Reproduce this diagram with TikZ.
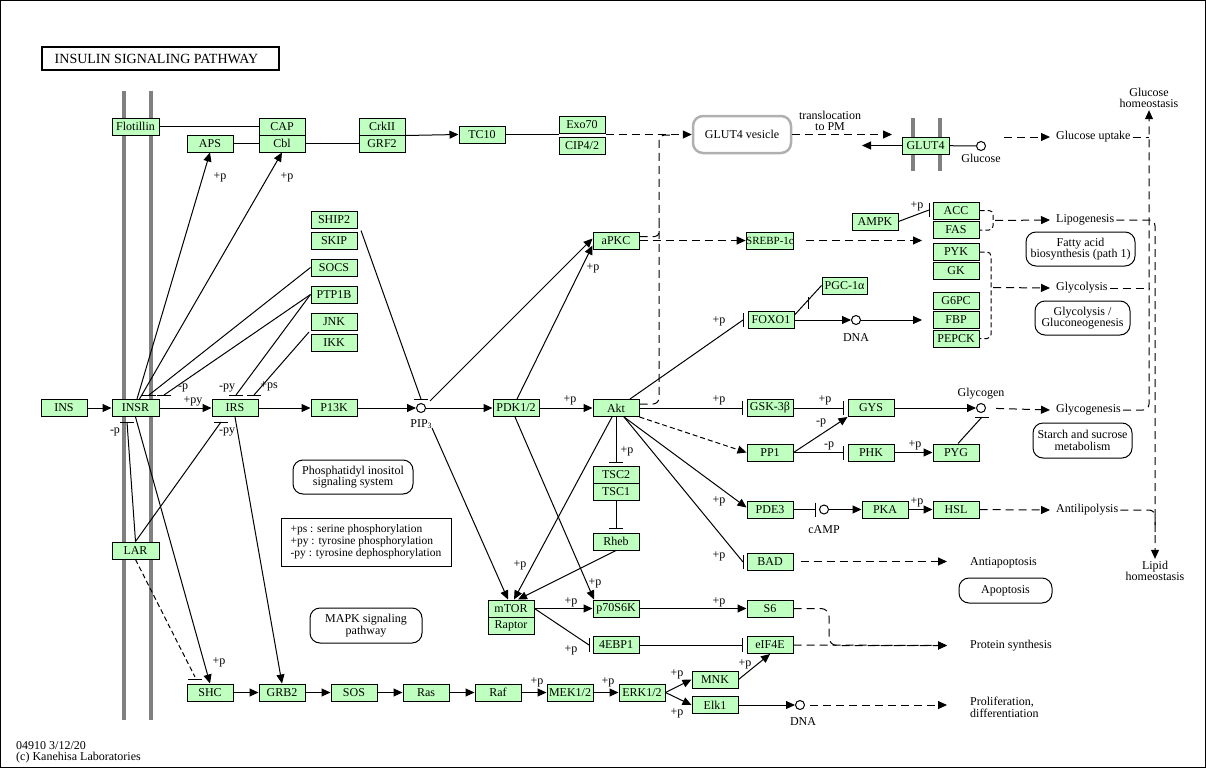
\documentclass[tikz,border=0pt]{standalone}
\usepackage{fontspec}
\setmainfont{Liberation Serif}
\usetikzlibrary{arrows.meta}
\definecolor{kgreen}{RGB}{191,255,191}
\definecolor{kgray}{RGB}{128,128,128}
\definecolor{vgray}{RGB}{176,176,176}
\newcommand{\kfs}{\fontsize{12}{11.5}\selectfont}
\newcommand{\kvb}[1]{\draw[con] ([yshift=-7pt]#1) -- ([yshift=7pt]#1);}
\newcommand{\khb}[1]{\draw[con] ([xshift=-7pt]#1) -- ([xshift=7pt]#1);}
\begin{document}
\begin{tikzpicture}[x=1pt,y=-1pt,
  con/.style={line width=1pt},
  gene/.style={draw, fill=kgreen, line width=1pt, minimum width=46pt, minimum height=17pt, inner sep=0pt, font=\kfs},
  cpd/.style={circle, draw, line width=1pt, minimum size=9pt, inner sep=0pt, fill=white},
  lbl/.style={font=\kfs, inner sep=0pt},
  txt/.style={font=\kfs, inner sep=2pt, align=center},
  map/.style={draw, line width=1pt, rounded corners=10pt, font=\kfs, align=center, inner sep=0pt},
  act/.style={con, -{Triangle[length=9pt,width=8pt]}},
  inh/.style={con, -{Bar[width=14pt]}, shorten >=3.5pt},
  dsh/.style={dash pattern=on 8pt off 5pt},
  fdsh/.style={dash pattern=on 5pt off 3pt}]
\useasboundingbox (0,0) rectangle (1206,768);
\draw[line width=1pt] (0.5,0.5) rectangle (1205.5,767.5);

% title
\node[draw, line width=2pt, minimum width=237pt, minimum height=23pt, inner sep=0pt, font=\fontsize{14}{14}\selectfont] (title) at (160.5,58.5) {INSULIN SIGNALING PATHWAY\hspace*{8pt}};

% membranes
\draw[kgray, line width=4pt] (124,91) -- (124,720);
\draw[kgray, line width=4pt] (151,91) -- (151,720);
\draw[kgray, line width=4pt] (913,118) -- (913,171);
\draw[kgray, line width=4pt] (940,118) -- (940,171);

% gene boxes
\node[gene, minimum width=47pt] (Flot) at (135.5,126.5) {Flotillin};
\node[gene] (CAP) at (282,126.5) {CAP};
\node[gene] (Cbl) at (282,143.5) {Cbl};
\node[gene] (APS) at (210,143.5) {APS};
\node[gene] (CrkII) at (382,126.5) {CrkII};
\node[gene] (GRF2) at (382,143.5) {GRF2};
\node[gene] (TC10) at (482,134.5) {TC10};
\node[gene] (Exo70) at (582,124.5) {Exo70};
\node[gene] (CIP) at (582,145.5) {CIP4/2};
\node[gene, minimum width=47pt] (GLUT4) at (925.5,145.5) {GLUT4};
\node[gene] (ACC) at (956,210.5) {ACC};
\node[gene] (FAS) at (956,230) {FAS};
\node[gene] (AMPK) at (875,221.5) {AMPK};
\node[gene] (PYK) at (956,252) {PYK};
\node[gene] (GK) at (956,270.5) {GK};
\node[gene] (G6PC) at (956,300.5) {G6PC};
\node[gene] (FBP) at (956,319.5) {FBP};
\node[gene] (PEPCK) at (956,338.5) {PEPCK};
\node[gene, font=\fontsize{11}{11}\selectfont] (SREBP) at (770,240.5) {SREBP-1c};
\node[gene] (aPKC) at (616,240.5) {aPKC};
\node[gene, minimum width=45pt] (PGC) at (844.5,285.5) {PGC-1α};
\node[gene] (FOXO1) at (771,320) {FOXO1};
\node[gene] (SHIP2) at (334,219.5) {SHIP2};
\node[gene] (SKIP) at (334,241) {SKIP};
\node[gene] (SOCS) at (334,267.5) {SOCS};
\node[gene] (PTP1B) at (334,294.5) {PTP1B};
\node[gene] (JNK) at (334,321.5) {JNK};
\node[gene] (IKK) at (334,342.5) {IKK};
\node[gene] (INS) at (64,408) {INS};
\node[gene, minimum width=47pt] (INSR) at (135.5,408) {INSR};
\node[gene] (IRS) at (235,408) {IRS};
\node[gene] (P13K) at (334,408) {P13K};
\node[gene] (PDK) at (516,408) {PDK1/2};
\node[gene] (Akt) at (616,408) {Akt};
\node[gene] (GSK) at (770,408) {GSK-3β};
\node[gene] (GYS) at (871,408) {GYS};
\node[gene] (PP1) at (770,452.5) {PP1};
\node[gene] (PHK) at (871,452.5) {PHK};
\node[gene] (PYG) at (956,452.5) {PYG};
\node[gene] (PDE3) at (770,509.5) {PDE3};
\node[gene] (PKA) at (885,509.5) {PKA};
\node[gene] (HSL) at (956,509.5) {HSL};
\node[gene] (TSC2) at (616,475) {TSC2};
\node[gene] (TSC1) at (616,492) {TSC1};
\node[gene] (Rheb) at (616,541.5) {Rheb};
\node[gene] (BAD) at (770,561.5) {BAD};
\node[gene] (mTOR) at (511,608.5) {mTOR};
\node[gene] (Raptor) at (511,625.5) {Raptor};
\node[gene] (p70) at (616,608.5) {p70S6K};
\node[gene] (S6) at (770,608.5) {S6};
\node[gene] (fEBP) at (616,645) {4EBP1};
\node[gene] (eIF4E) at (770,645) {eIF4E};
\node[gene] (MNK) at (715,679.5) {MNK};
\node[gene] (Elk1) at (715,705) {Elk1};
\node[gene] (ERK) at (642,692.5) {ERK1/2};
\node[gene] (MEK) at (570,692.5) {MEK1/2};
\node[gene] (Raf) at (498,692.5) {Raf};
\node[gene] (Ras) at (426,692.5) {Ras};
\node[gene] (SOS) at (354,692.5) {SOS};
\node[gene] (GRB2) at (282,692.5) {GRB2};
\node[gene] (SHC) at (210,692.5) {SHC};
\node[gene, minimum width=47pt] (LAR) at (135.5,550.5) {LAR};

% compounds
\node[cpd] (PIP3) at (421,408) {};
\node[cpd] (Glc) at (981,146) {};
\node[cpd] (DNA1) at (856,320) {};
\node[cpd] (Glyg) at (981,408) {};
\node[cpd] (cAMP) at (824,509.5) {};
\node[cpd] (DNA2) at (800,705) {};
\node[lbl] (tPIP3) at (421,424) {PIP\raisebox{-1.5pt}{\fontsize{8}{8}\selectfont 3}};
\node[lbl] (tGlc) at (981,158) {Glucose};
\node[lbl] (tDNA1) at (856,338) {DNA};
\node[lbl] (tGlyg) at (981,394) {Glycogen};
\node[lbl] (tcAMP) at (824,530) {cAMP};
\node[lbl] (tDNA2) at (803,722) {DNA};

% maps and outcome texts
\node[map, draw=vgray, line width=2.5pt, minimum width=98pt, minimum height=37pt] (ves) at (742,134.5) {GLUT4 vesicle};
\node[map, minimum width=120pt, minimum height=34pt] (pis) at (353,477) {Phosphatidyl inositol\\signaling system};
\node[map, minimum width=112pt, minimum height=35pt] (mapk) at (366,625.5) {MAPK signaling\\pathway};
\node[map, minimum width=109pt, minimum height=34pt] (fab) at (1080.5,249) {Fatty acid\\biosynthesis (path 1)};
\node[map, minimum width=95pt, minimum height=34pt] (glygm) at (1082.5,318) {Glycolysis /\\Gluconeogenesis};
\node[map, minimum width=99pt, minimum height=35pt] (ssm) at (1082.5,440.5) {Starch and sucrose\\metabolism};
\node[map, minimum width=93pt, minimum height=25pt] (apo) at (1005.5,590.5) {Apoptosis};

\node[txt] (trans) at (830,121) {translocation\\to PM};
\node[txt] (GH) at (1149,98) {Glucose\\homeostasis};
\node[txt] (LH) at (1155,571) {Lipid\\homeostasis};
\node[txt, anchor=west] (gup) at (1054,137) {Glucose uptake};
\node[txt, anchor=west] (lipo) at (1054,220) {Lipogenesis};
\node[txt, anchor=west] (glyc) at (1054,288) {Glycolysis};
\node[txt, anchor=west] (glycg) at (1054,410) {Glycogenesis};
\node[txt, anchor=west] (alip) at (1054,510) {Antilipolysis};
\node[txt, anchor=west] (aapo) at (968,563) {Antiapoptosis};
\node[txt, anchor=west] (psyn) at (968,646) {Protein synthesis};
\node[txt, anchor=west, align=left] (prol) at (968,707.5) {Proliferation,\\differentiation};

\node[draw, line width=1pt, minimum width=170pt, minimum height=48pt, align=left, font=\fontsize{11.5}{12}\selectfont, inner sep=0pt] (legend) at (366,542) {+ps : serine phosphorylation\\+py : tyrosine phosphorylation\\-py : tyrosine dephosphorylation};
\node[anchor=west, align=left, font=\fontsize{12}{11}\selectfont, inner sep=0pt] (copy) at (16,752) {04910 3/12/20\\(c) Kanehisa Laboratories};

% coordinates for free ends and bars
\coordinate (g4out) at (862,145.5);
\coordinate (g4in) at (892,134.5);
\coordinate (gstart) at (1004,137);
\coordinate (gupe) at (1050,137);
\coordinate (lipoe) at (1050,220);
\coordinate (glyce) at (1050,288);
\coordinate (glycge) at (1050,410);
\coordinate (alipe) at (1050,510);
\coordinate (aapoe) at (947,561.5);
\coordinate (psyne) at (947,645.5);
\coordinate (prole) at (947,705);
\coordinate (sr2) at (922,240.5);
\coordinate (dn1e) at (922,320);
\coordinate (acm) at (995,220.5);
\coordinate (pym) at (993,287.5);
\coordinate (s6t1) at (829,608.5);
\coordinate (s6t2) at (829,645.5);
\coordinate (vtop) at (659,135);
\coordinate (vend) at (672,135);
\coordinate (vap) at (659,226);
\coordinate (bS) at (149,395);
\coordinate (bP) at (164,395);
\coordinate (bPI) at (236,395);
\coordinate (bJ) at (254,395);
\coordinate (jik) at (309,332);
\coordinate (bL1) at (127,422);
\coordinate (bL2) at (221,422);
\coordinate (bL3) at (195,679);
\coordinate (shk) at (361,230.5);
\coordinate (bPIP) at (421,399);
\coordinate (bF) at (743,320);
\coordinate (bB) at (743,562);
\coordinate (b4) at (589,645);
\coordinate (bA) at (929,210);
\coordinate (bG) at (982,417);
\coordinate (bPG) at (808,302.5);

% main row
\draw[act] (INS) -- (INSR);
\draw[act] (INSR) -- (IRS);
\draw[act] (IRS) -- (P13K);
\draw[act] (P13K) -- (PIP3);
\draw[act] (PIP3) -- (PDK);
\draw[act] (PDK) -- (Akt);
\draw[inh] (Akt) -- (GSK);
\draw[inh] (GSK) -- (GYS);
\draw[act] (GYS) -- (Glyg);
\draw[act,dsh,shorten <=10pt] (Glyg) -- (glycge);

% right side outcomes
\draw[act,dsh,rounded corners=6pt] (glycg.east) -| (GH.south);
\draw[con,dsh] (gup.east) -- (gup.east -| GH.south);
\draw[con,dsh] (glyc.east) -- (glyc.east -| GH.south);
\draw[act,dsh,rounded corners=6pt] (lipo.east) -| (LH.north);
\draw[con,dsh,rounded corners=6pt] (alip.east) -| ([yshift=-22pt]alip.east -| LH.north);

% glucose transport
\draw[con] (GLUT4) -- (Glc);
\draw[act] (GLUT4) -- (g4out);
\draw[act,dsh] (gstart) -- (gupe);
\draw[act,dsh] (ves) -- (g4in);

% top row
\draw[con] (Flot) -- (CAP);
\draw[con] (APS) -- (Cbl);
\draw[con] (Cbl) -- (GRF2);
\draw[act] (CrkII.south east) -- (TC10.west);
\draw[con] (TC10) -- (TC10 -| Exo70.west);
\draw[act,dsh] (TC10 -| Exo70.east) -- (ves.west);
\draw[act] ([xshift=1.5pt]INSR.north) -- (APS.south);
\draw[act] ([xshift=4pt]INSR.north) -- (Cbl.south);

% inhibitors of INSR / IRS
\draw[con] (SOCS.west) -- (bS); \khb{bS}
\draw[con] (PTP1B.west) -- (bP); \khb{bP}
\draw[con] (PTP1B.west) -- (bPI); \khb{bPI}
\draw[con] (jik) -- (bJ); \khb{bJ}
\draw[con] (LAR.north) -- (bL1); \khb{bL1}
\draw[con] (LAR.north) -- (bL2); \khb{bL2}
\draw[con,fdsh] (LAR.south) -- ([yshift=2pt]bL3); \khb{bL3}

% to SHC / GRB2 and MAPK cascade
\draw[act] (INSR.south) -- (SHC.north);
\draw[act] (IRS.south) -- (GRB2.north);
\draw[act] (SHC) -- (GRB2);
\draw[act] (GRB2) -- (SOS);
\draw[act] (SOS) -- (Ras);
\draw[act] (Ras) -- (Raf);
\draw[act] (Raf) -- (MEK);
\draw[act] (MEK) -- (ERK);
\draw[act] (ERK.east) -- (MNK.west);
\draw[act] (ERK.east) -- (Elk1.west);
\draw[act] (MNK.east) -- (eIF4E.south);
\draw[act] (Elk1) -- (DNA2);
\draw[act,dsh,shorten <=5pt] (DNA2) -- (prole);

% mTOR region
\draw[act] (mTOR) -- (p70);
\draw[act] (p70) -- (S6);
\draw[con] (mTOR.east) -- (b4); \kvb{b4}
\draw[inh] (fEBP) -- (eIF4E);
\draw[act,dsh,rounded corners=8pt] (S6.east) -- (s6t1) -- (s6t2) -- (psyne);
\draw[act,dsh] (eIF4E.east) -- (psyne);
\draw[inh] (Akt.south) -- (TSC2.north);
\draw[inh] (TSC1.south) -- (Rheb.north);
\draw[act] (Rheb.south) -- ([xshift=7pt]mTOR.north);
\draw[act] ([xshift=-4pt]Akt.south) -- ([xshift=3pt]mTOR.north);
\draw[act] ([xshift=11pt,yshift=-20pt]PIP3.center) -- ([xshift=-3pt]mTOR.north);
\draw[act] ([xshift=-1pt]PDK.south) -- ([xshift=-22pt]p70.north);
\draw[act] ([xshift=1pt]PDK.north) -- ([yshift=-5pt]aPKC.west);
\draw[act] ([xshift=9pt,yshift=7pt]PIP3.center) -- ([yshift=2pt]aPKC.west);
\draw[con] (shk) -- (bPIP); \khb{bPIP}

% aPKC / Akt outputs
\draw[act,dsh] (aPKC) -- (SREBP);
\draw[act,dsh,shorten <=12pt] (SREBP.east) -- (sr2);
\draw[con,dsh,rounded corners=6pt] ([yshift=4pt]Akt.east) -| (vtop) -- (vend);
\draw[con,dsh,rounded corners=4pt] ([yshift=4pt]aPKC.east) -| (vap);
\draw[con] ([xshift=14pt]Akt.north) -- (bF); \kvb{bF}
\draw[con] ([xshift=8pt]Akt.south) -- (bB); \kvb{bB}
\draw[act] ([xshift=8pt]Akt.south) -- ([yshift=2pt]PDE3.west);
\draw[act,fdsh] (Akt.south east) -- (PP1.west);
\draw[act] (FOXO1) -- (DNA1);
\draw[act] (DNA1) -- (dn1e);
\draw[con] ([yshift=-4pt]FOXO1.north east) -- (PGC.west);
\draw[con] ([yshift=-6pt]bPG) -- ([yshift=6pt]bPG);
\draw[con] (AMPK.east) -- (bA); \kvb{bA}

% brackets
\draw[con,fdsh,rounded corners=4pt] (ACC.east) -- (993,210.5) -- (993,230) -- (FAS.east);
\draw[act,dsh] (acm) -- (lipoe);
\draw[con,fdsh,rounded corners=4pt] (PYK.east) -- (991,252) -- (991,338.5) -- (PEPCK.east);
\draw[act,dsh] (pym) -- (glyce);

% glycogen / lipolysis
\draw[act] (PP1.east) -- (GYS.south west);
\draw[inh] (PP1) -- (PHK);
\draw[act] (PHK) -- (PYG);
\draw[con] ([xshift=2pt]PYG.north) -- (bG); \khb{bG}
\draw[inh] (PDE3) -- (cAMP);
\draw[act] (cAMP) -- (PKA);
\draw[act] (PKA) -- (HSL);
\draw[act,dsh] (HSL) -- (alipe);
\draw[act,dsh,shorten <=7pt] (BAD) -- (aapoe);

% edge labels
\node[lbl] (l1) at (193,401) {+py};
\node[lbl] (l2) at (183,388) {-p};
\node[lbl] (l3) at (227,388) {-py};
\node[lbl] (l4) at (269,386) {+ps};
\node[lbl] (l5) at (115,432) {-p};
\node[lbl] (l6) at (227,432) {-py};
\node[lbl] (l7) at (220,177) {+p};
\node[lbl] (l8) at (287,177) {+p};
\node[lbl] (l9) at (219,662) {+p};
\node[lbl] (l10) at (570,400) {+p};
\node[lbl] (l11) at (719,400) {+p};
\node[lbl] (l12) at (825,400) {+p};
\node[lbl] (l13) at (821,423) {-p};
\node[lbl] (l14) at (829,446) {-p};
\node[lbl] (l15) at (915,445) {+p};
\node[lbl] (l16) at (917,502) {+p};
\node[lbl] (l17) at (627,451) {+p};
\node[lbl] (l18) at (719,321) {+p};
\node[lbl] (l19) at (719,501) {+p};
\node[lbl] (l20) at (719,556) {+p};
\node[lbl] (l21) at (593,268) {+p};
\node[lbl] (l22) at (520,565) {+p};
\node[lbl] (l23) at (595,583) {+p};
\node[lbl] (l24) at (571,602) {+p};
\node[lbl] (l25) at (571,650) {+p};
\node[lbl] (l26) at (719,602) {+p};
\node[lbl] (l27) at (745,664) {+p};
\node[lbl] (l28) at (677,674) {+p};
\node[lbl] (l29) at (677,713) {+p};
\node[lbl] (l30) at (537,682) {+p};
\node[lbl] (l31) at (608,682) {+p};
\node[lbl] (l32) at (917,206) {+p};
\end{tikzpicture}
\end{document}
